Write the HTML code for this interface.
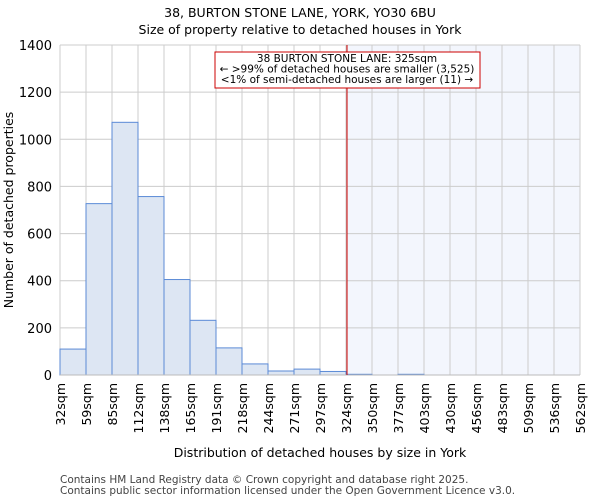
<!DOCTYPE html>
<html><head><meta charset="utf-8"><style>
body{margin:0;background:#fff;font-family:"DejaVu Sans","Liberation Sans",sans-serif;}
svg text{font-family:"DejaVu Sans","Liberation Sans",sans-serif;}
</style></head><body>
<svg id="chart" width="600" height="500" xmlns="http://www.w3.org/2000/svg">
<text x="300" y="17" text-anchor="middle" font-size="12.5">38, BURTON STONE LANE, YORK, YO30 6BU</text>
<text x="300" y="34" text-anchor="middle" font-size="12.5">Size of property relative to detached houses in York</text>
<g id="grid"></g><g id="bars"></g><g id="axes"></g>
<text x="320" y="457" text-anchor="middle" font-size="12.5">Distribution of detached houses by size in York</text>
<text transform="translate(13,210) rotate(-90)" text-anchor="middle" font-size="12.5">Number of detached properties</text>
<text x="60" y="483" font-size="10.5" fill="#444">Contains HM Land Registry data © Crown copyright and database right 2025.</text>
<text x="60" y="494" font-size="10.5" fill="#444">Contains public sector information licensed under the Open Government Licence v3.0.</text>
</svg>
<script>
const categories=["32sqm","59sqm","85sqm","112sqm","138sqm","165sqm","191sqm","218sqm","244sqm","271sqm","297sqm","324sqm","350sqm","377sqm","403sqm","430sqm","456sqm","483sqm","509sqm","536sqm","562sqm"];
const counts=[110,727,1072,757,405,232,115,47,17,25,15,3,0,3,0,0,0,0,0,0];
const yTicks=[0,200,400,600,800,1000,1200,1400];
const propertySize=325;
const ns="http://www.w3.org/2000/svg";
const X0=60,X1=580,Y0=375,Y1=45,YMAX=1400;
const nb=counts.length,bw=(X1-X0)/nb;
const xs=i=>X0+i*bw;
const ys=v=>Y0-(v/YMAX)*(Y0-Y1);
const edges=categories.map(c=>parseFloat(c));
function xVal(v){for(let i=0;i<edges.length-1;i++){if(v<=edges[i+1])return xs(i)+(v-edges[i])/(edges[i+1]-edges[i])*bw;}return X1;}
function mk(t,a,p){const e=document.createElementNS(ns,t);for(const k in a)e.setAttribute(k,a[k]);p.appendChild(e);return e;}
const grid=document.getElementById('grid'),bars=document.getElementById('bars'),axes=document.getElementById('axes');
const px=xVal(propertySize);
let hl=mk('rect',{x:px,y:Y1,width:X1-px,height:Y0-Y1,fill:'#f3f6fd'},grid);


for(let i=0;i<=nb;i++){let l=mk('line',{x1:xs(i),x2:xs(i),y1:Y1,y2:Y0,stroke:'#cccccc','stroke-width':1},grid);

}
yTicks.forEach(t=>{let l=mk('line',{x1:X0,x2:X1,y1:ys(t),y2:ys(t),stroke:'#cccccc','stroke-width':1},grid);


let tx=mk('text',{x:X0-8,y:ys(t)+5,'text-anchor':'end','font-size':13},axes);tx.textContent=t;

});
counts.forEach((v,i)=>{const r=mk('rect',{x:xs(i),y:ys(v),width:bw,height:Y0-ys(v),fill:i>=12?'#e6ecf7':'#dde6f3',stroke:'#5b8ad6','stroke-width':1},bars);

});
categories.forEach((c,i)=>{const t=mk('text',{transform:`translate(${xs(i)+5},383) rotate(-90)`,'text-anchor':'end','font-size':12.5},axes);t.textContent=c;

});
let ax=mk('line',{x1:X0,x2:X1,y1:Y0,y2:Y0,stroke:'#bbb','stroke-width':1},axes);


let pl=mk('line',{x1:px,x2:px,y1:Y1,y2:Y0,stroke:'#cc0000','stroke-width':1},axes);


let box=mk('rect',{x:215,y:52,width:265,height:36,fill:'#fff',stroke:'#cc0000','stroke-width':1},axes);


["38 BURTON STONE LANE: 325sqm","← >99% of detached houses are smaller (3,525)","<1% of semi-detached houses are larger (11) →"].forEach((s,i)=>{const t=mk('text',{x:347,y:62+i*10.5,'text-anchor':'middle','font-size':10.5},axes);t.textContent=s;

});
</script>
</body></html>
